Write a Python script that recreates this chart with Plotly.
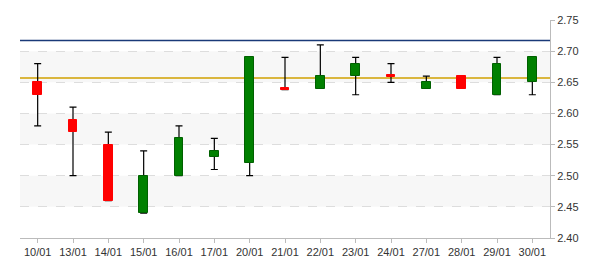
import plotly.graph_objects as go

dates = ["10/01", "13/01", "14/01", "15/01", "16/01", "17/01", "20/01", "21/01",
         "22/01", "23/01", "24/01", "27/01", "28/01", "29/01", "30/01"]
opens = [2.65, 2.59, 2.55, 2.44, 2.50, 2.53, 2.52, 2.641, 2.64, 2.66, 2.661, 2.64, 2.66, 2.63, 2.65]
highs = [2.68, 2.61, 2.57, 2.54, 2.58, 2.56, 2.69, 2.69, 2.71, 2.69, 2.68, 2.66, 2.66, 2.69, 2.69]
lows = [2.58, 2.50, 2.46, 2.44, 2.50, 2.51, 2.50, 2.638, 2.64, 2.63, 2.65, 2.64, 2.64, 2.63, 2.63]
closes = [2.63, 2.57, 2.46, 2.50, 2.56, 2.54, 2.69, 2.638, 2.66, 2.68, 2.659, 2.65, 2.64, 2.68, 2.69]
ref_high = 2.717
ref_avg = 2.657
bands = [(2.65, 2.70), (2.55, 2.60), (2.45, 2.50)]
y_ticks = [2.40, 2.45, 2.50, 2.55, 2.60, 2.65, 2.70, 2.75]

UP = "#008000"
UP_EDGE = "#006000"
DOWN = "#ff0000"
Y_RANGE = [2.40, 2.75]

mids = [(h + l) / 2 for h, l in zip(highs, lows)]
fig = go.Figure()
fig.add_trace(go.Scatter(
    x=dates, y=mids, mode="markers",
    marker=dict(size=1, color="rgba(0,0,0,0)"),
    error_y=dict(type="data", symmetric=False,
                 array=[h - m for h, m in zip(highs, mids)],
                 arrayminus=[m - l for m, l in zip(mids, lows)],
                 color="black", thickness=1.2, width=3.5),
    showlegend=False, hoverinfo="skip"))

base = [min(o, c) for o, c in zip(opens, closes)]
height = [abs(c - o) for o, c in zip(opens, closes)]
cols = [UP if c > o else DOWN for o, c in zip(opens, closes)]
edges = [UP_EDGE if c > o else DOWN for o, c in zip(opens, closes)]
fig.add_trace(go.Bar(
    x=dates, y=height, base=base, width=0.25, yaxis="y2",
    marker=dict(color=cols, line=dict(color=edges, width=1)),
    showlegend=False))

for lo, hi in bands:
    fig.add_shape(type="rect", xref="paper", yref="y", x0=0, x1=1, y0=lo, y1=hi,
                  fillcolor="#f7f7f7", line_width=0, layer="below")
fig.add_shape(type="line", xref="paper", yref="y", x0=0, x1=1, y0=ref_high, y1=ref_high,
              line=dict(color="#1a3a78", width=1.5), layer="below")
fig.add_shape(type="line", xref="paper", yref="y", x0=0, x1=1, y0=ref_avg, y1=ref_avg,
              line=dict(color="#d0a000", width=1.5), layer="below")

fig.update_layout(
    width=600, height=270,
    margin=dict(l=20, r=50, t=20, b=30),
    paper_bgcolor="white", plot_bgcolor="white",
    font=dict(family="Liberation Sans, Arial", size=11, color="#333333"),
    bargap=0,
    xaxis=dict(type="category", range=[-0.5, 14.5], showline=True, linecolor="#bbbbbb",
               ticks="outside", ticklen=4, tickcolor="#bbbbbb", showgrid=False,
               zeroline=False, fixedrange=True),
    yaxis=dict(side="right", range=Y_RANGE, tickvals=y_ticks,
               ticktext=[f"{v:.2f}" for v in y_ticks],
               showline=True, linecolor="#bbbbbb", ticks="outside", ticklen=4,
               tickcolor="#bbbbbb", showgrid=True, gridcolor="#dddddd", griddash="dash",
               zeroline=False, fixedrange=True),
    yaxis2=dict(overlaying="y", range=Y_RANGE, visible=False, showgrid=False,
                zeroline=False, fixedrange=True),
)
fig.write_html("out.html")
